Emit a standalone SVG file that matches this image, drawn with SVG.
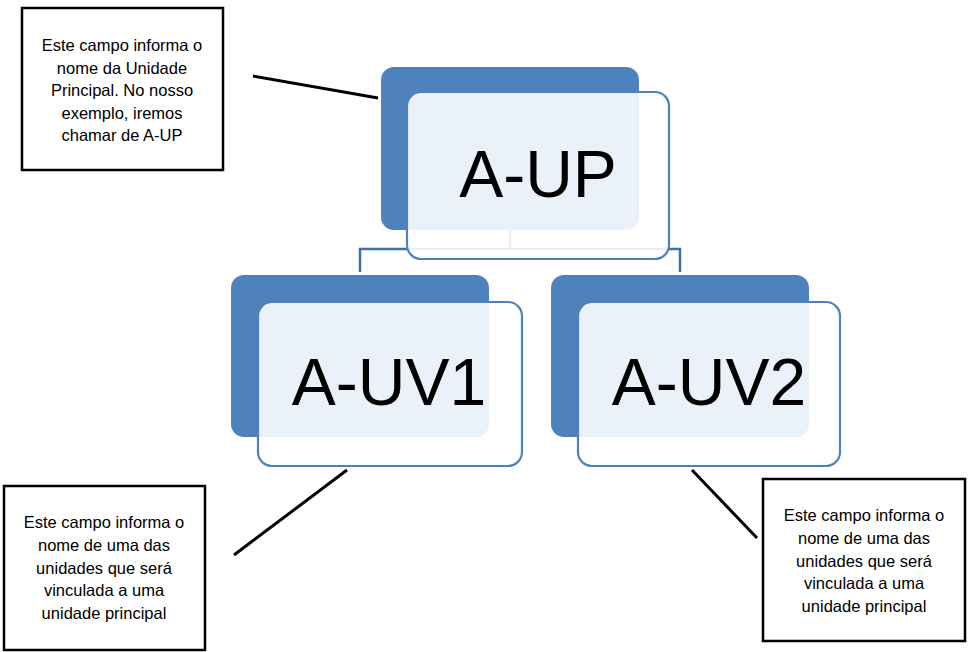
<svg xmlns="http://www.w3.org/2000/svg" width="970" height="652" viewBox="0 0 970 652">
<style>
.back{fill:#4F81BD;}
.front{fill:#FFFFFF;fill-opacity:0.89;stroke:#4F81BD;stroke-width:2.2;}
.big{font-family:"Liberation Sans",Arial,sans-serif;font-size:66px;fill:#000;text-anchor:middle;}
.note{fill:#FFFFFF;stroke:#000;stroke-width:2.5;}
.nt{font-family:"Liberation Sans",Arial,sans-serif;font-size:16.5px;fill:#000;text-anchor:middle;}
.conn{fill:none;stroke:#41719C;stroke-width:2.5;}
.lead{stroke:#000;stroke-width:3;fill:none;}
</style>
<rect width="970" height="652" fill="#FFFFFF"/>
<g id="connectors">
<path class="conn" d="M510 230 V249 M360 272 V249 H680 V272"/>
</g>
<g id="node-aup">
<rect class="back" x="381" y="67" width="258" height="163" rx="13"/>
<rect class="front" x="407" y="92" width="262" height="167" rx="14"/>
<text class="big" x="538" y="197">A-UP</text>
</g>
<g id="node-auv1">
<rect class="back" x="231" y="275" width="258" height="162" rx="13"/>
<rect class="front" x="258" y="302" width="264" height="164" rx="14"/>
<text class="big" x="389" y="405">A-UV1</text>
</g>
<g id="node-auv2">
<rect class="back" x="551" y="275" width="258" height="162" rx="13"/>
<rect class="front" x="578" y="302" width="262" height="164" rx="14"/>
<text class="big" x="709" y="405">A-UV2</text>
</g>
<g id="leaders">
<line class="lead" x1="253" y1="76" x2="378" y2="98"/>
<line class="lead" x1="234" y1="555" x2="347" y2="470"/>
<line class="lead" x1="692" y1="470" x2="757" y2="538"/>
</g>
<g id="note-up">
<rect class="note" x="22" y="8" width="201" height="162"/>
<text class="nt" x="122" y="51">Este campo informa o</text>
<text class="nt" x="122" y="73.5">nome da Unidade</text>
<text class="nt" x="122" y="96">Principal. No nosso</text>
<text class="nt" x="122" y="118.5">exemplo, iremos</text>
<text class="nt" x="122" y="141">chamar de A-UP</text>
</g>
<g id="note-uv1">
<rect class="note" x="4" y="486" width="201" height="164"/>
<text class="nt" x="104" y="528">Este campo informa o</text>
<text class="nt" x="104" y="551">nome de uma das</text>
<text class="nt" x="104" y="573.5">unidades que será</text>
<text class="nt" x="104" y="596">vinculada a uma</text>
<text class="nt" x="104" y="618.5">unidade principal</text>
</g>
<g id="note-uv2">
<rect class="note" x="763" y="479" width="202" height="162"/>
<text class="nt" x="864" y="521">Este campo informa o</text>
<text class="nt" x="864" y="544">nome de uma das</text>
<text class="nt" x="864" y="566.5">unidades que será</text>
<text class="nt" x="864" y="589">vinculada a uma</text>
<text class="nt" x="864" y="611.5">unidade principal</text>
</g>
</svg>
